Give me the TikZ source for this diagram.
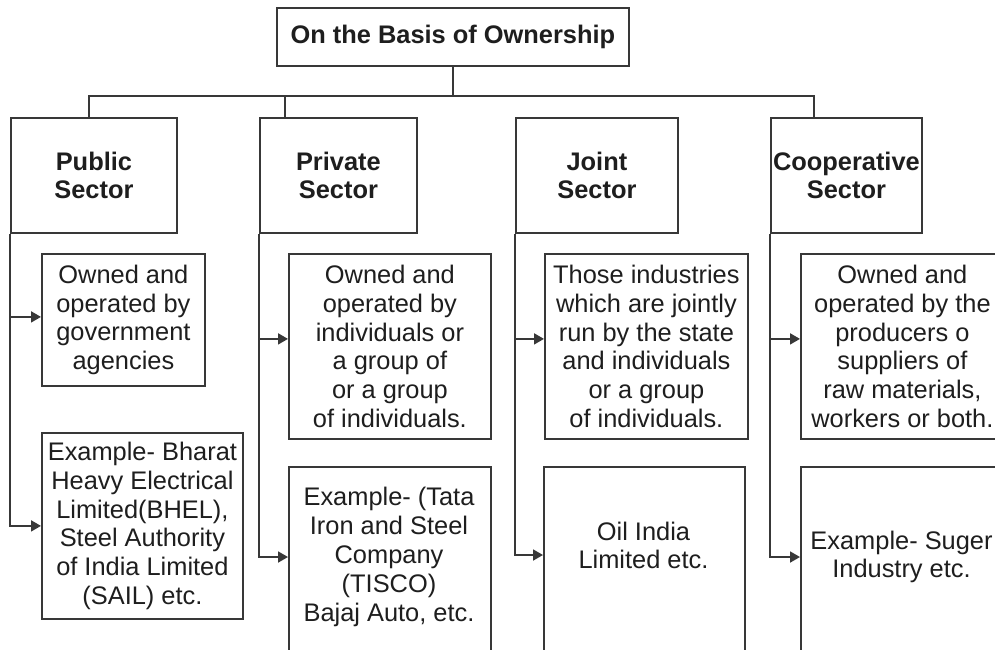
\documentclass[tikz,border=0pt]{standalone}
\usepackage{fontspec}
\setmainfont{Liberation Sans}
\usetikzlibrary{arrows.meta}
\definecolor{ln}{HTML}{383838}
\definecolor{tx}{HTML}{1E1E1E}
\begin{document}
\begin{tikzpicture}[x=1pt,y=-1pt,
  every node/.style={font=\fontsize{25.4}{28.8}\selectfont, text=tx, align=center, inner sep=0pt},
  box/.style={draw=ln, line width=1.8pt, anchor=north west},
  bold/.style={font=\fontsize{25.4}{28.5}\selectfont\bfseries},
  link/.style={draw=ln, line width=1.8pt},
  arr/.style={link, -{Triangle[length=10pt,width=11pt]}}]
\useasboundingbox (0,0) rectangle (995,649);
\clip (0,0) rectangle (995,649);
\fill[white] (0,0) rectangle (995,649);
% top
\node[box, bold, minimum width=352pt, minimum height=58pt] (top) at (276,7) {On the Basis of Ownership};
% sectors
\node[box, bold, minimum width=166pt, minimum height=115pt] (pub) at (10,117) {Public\\Sector};
\node[box, bold, minimum width=157pt, minimum height=115pt] (pri) at (259,117) {Private\\Sector};
\node[box, bold, minimum width=162pt, minimum height=115pt] (joi) at (515,117) {Joint\\Sector};
\node[box, bold, minimum width=151pt, minimum height=115pt] (coo) at (770,117) {Cooperative\\Sector};
% descriptions
\node[box, minimum width=163pt, minimum height=132pt] (pd) at (41,253) {Owned and\\operated by\\government\\agencies};
\node[box, minimum width=201pt, minimum height=186pt] (pe) at (41,432) {Example- Bharat\\Heavy Electrical\\Limited(BHEL),\\Steel Authority\\of India Limited\\(SAIL) etc.};
\node[box, minimum width=202pt, minimum height=185pt] (rd) at (288,253) {Owned and\\operated by\\individuals or\\a group of\\or a group\\of individuals.};
\node[box, minimum width=202pt, minimum height=220pt] (re) at (288,466) {};
\node (ret) at (389,557) {Example- (Tata\\Iron and Steel\\Company\\(TISCO)\\Bajaj Auto, etc.};
\node[box, minimum width=203pt, minimum height=185pt] (jd) at (544,253) {Those industries\\which are jointly\\run by the state\\and individuals\\or a group\\of individuals.};
\node[box, minimum width=201pt, minimum height=220pt] (je) at (543,466) {};
\node (jet) at (643.5,545.5) {Oil India\\Limited etc.};
\node[box, minimum width=203pt, minimum height=185pt] (cd) at (800,253) {Owned and\\operated by the\\producers o\\suppliers of\\raw materials,\\workers or both.};
\node[box, minimum width=203pt, minimum height=220pt] (ce) at (800,466) {};
\node (cet) at (901.5,557) {Example- Suger\\Industry etc.};
% tree
\coordinate (hl) at (89,96);
\coordinate (hp) at (285,96);
\coordinate (hr) at (814,96);
\draw[link] (top.south) -- (top.south |- hl);
\draw[link] (hl |- pub.north) -- (hl) -- (hr) -- (hr |- coo.north);
\draw[link] (hp) -- (hp |- pri.north);
% branches
\draw[arr] (pub.south west) |- ([yshift=3pt]pd.west);
\draw[arr] (pub.south west) |- (pe.west);
\draw[arr] (pri.south west) |- ([yshift=7.5pt]rd.west);
\draw[arr] (pri.south west) |- (re.west |- ret);
\path (jet) ++(0,9.5) coordinate (ja);
\draw[arr] (joi.south west) |- ([yshift=7.5pt]jd.west);
\draw[arr] (joi.south west) |- (je.west |- ja);
\draw[arr] (coo.south west) |- ([yshift=7.5pt]cd.west);
\draw[arr] (coo.south west) |- (ce.west |- cet);
\end{tikzpicture}
\end{document}
